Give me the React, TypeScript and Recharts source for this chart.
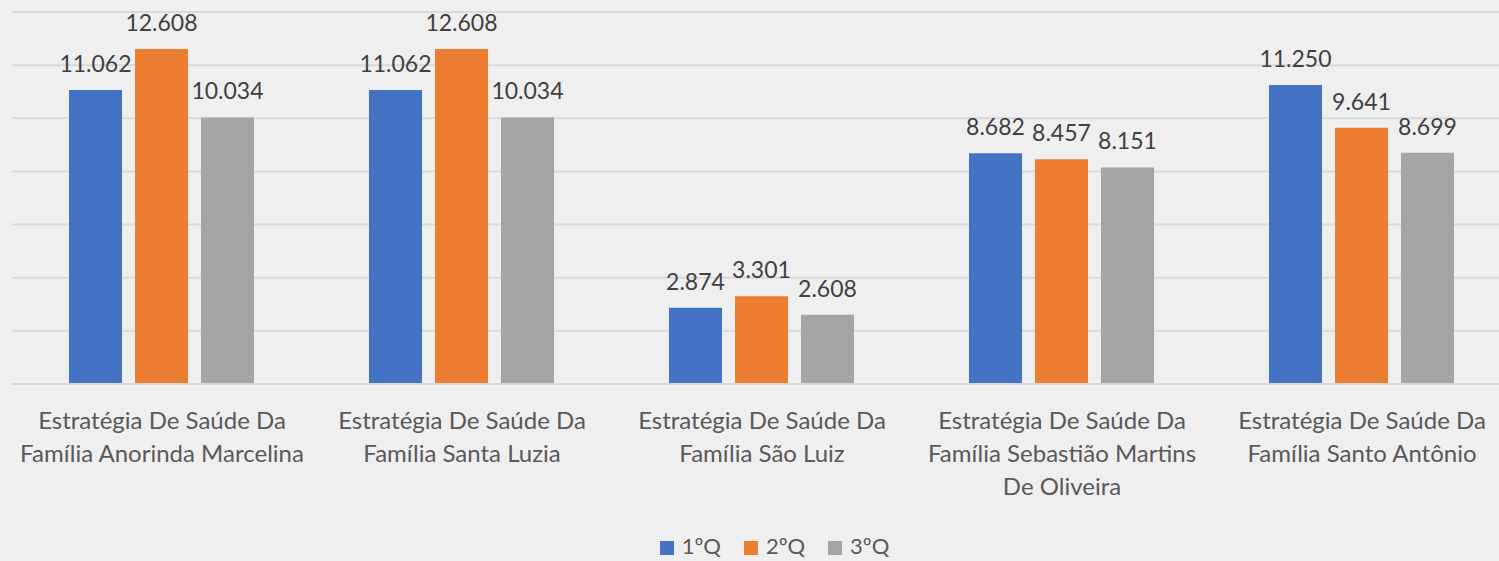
import { BarChart, Bar, XAxis, YAxis, CartesianGrid, Legend, LabelList } from "recharts"

// Unidades de saúde
const categorias = [
  "Estratégia De Saúde Da Família Anorinda Marcelina",
  "Estratégia De Saúde Da Família Santa Luzia",
  "Estratégia De Saúde Da Família São Luiz",
  "Estratégia De Saúde Da Família Sebastião Martins De Oliveira",
  "Estratégia De Saúde Da Família Santo Antônio",
]

// Valores por quadrimestre
const q1 = [11062, 11062, 2874, 8682, 11250]
const q2 = [12608, 12608, 3301, 8457, 9641]
const q3 = [10034, 10034, 2608, 8151, 8699]

const yTicks = [0, 2000, 4000, 6000, 8000, 10000, 12000, 14000]

const FONT = "Lato, 'Open Sans', sans-serif"

const data = categorias.map((name, i) => ({ name, q1: q1[i], q2: q2[i], q3: q3[i] }))

// formata 11062 -> "11.062"
const fmt = (v: number) => String(v).replace(/\B(?=(\d{3})+(?!\d))/g, ".")

// quebra o rótulo em linhas de até 26 caracteres
function wrap(text: string, max = 26) {
  const lines: string[] = []
  let cur = ""
  text.split(" ").forEach((w) => {
    const next = cur ? cur + " " + w : w
    if (next.length > max && cur) {
      lines.push(cur)
      cur = w
    } else {
      cur = next
    }
  })
  if (cur) lines.push(cur)
  return lines
}

const CategoryTick = ({ x, y, payload }: any) => {
  const lines = wrap(payload.value)
  return (
    <text x={x} y={y} textAnchor="middle" fill="#595959" fontSize={24} fontFamily={FONT}>
      {lines.map((l, i) => (
        <tspan key={i} x={x} dy={i === 0 ? 37 : 33}>
          {l}
        </tspan>
      ))}
    </text>
  )
}

export default function App() {
  return (
    <div style={{ position: "absolute", left: 0, top: 0, width: 1499, height: 561, overflow: "hidden", background: "#efefef" }}>
      <BarChart
        width={1520}
        height={561}
        data={data}
        margin={{ top: 12, right: 8, left: 12, bottom: 0 }}
        barCategoryGap="19%"
        barGap={13}
      >
        <CartesianGrid vertical={false} stroke="#d9d9d9" strokeWidth={2} />
        <XAxis
          dataKey="name"
          axisLine={{ stroke: "#d9d9d9", strokeWidth: 2 }}
          tickLine={false}
          interval={0}
          height={115}
          tick={<CategoryTick />}
        />
        <YAxis hide domain={[0, 14000]} ticks={yTicks} />
        <Legend
          verticalAlign="bottom"
          height={48}
          iconType="square"
          iconSize={14}
          wrapperStyle={{ top: 517, fontFamily: FONT, fontSize: 22, color: "#595959", lineHeight: "30px", paddingTop: 14, paddingLeft: 24 }}
          formatter={(value) => <span style={{ color: "#595959", marginLeft: 4, marginRight: 13 }}>{value}</span>}
        />
        <Bar dataKey="q1" name="1ºQ" fill="#4472C4" isAnimationActive={false}>
          <LabelList dataKey="q1" position="top" offset={18} formatter={(v: any) => fmt(v)} fill="#404040" fontSize={23} fontFamily={FONT} />
        </Bar>
        <Bar dataKey="q2" name="2ºQ" fill="#ED7D31" isAnimationActive={false}>
          <LabelList dataKey="q2" position="top" offset={18} formatter={(v: any) => fmt(v)} fill="#404040" fontSize={23} fontFamily={FONT} />
        </Bar>
        <Bar dataKey="q3" name="3ºQ" fill="#A5A5A5" isAnimationActive={false}>
          <LabelList dataKey="q3" position="top" offset={18} formatter={(v: any) => fmt(v)} fill="#404040" fontSize={23} fontFamily={FONT} />
        </Bar>
      </BarChart>
    </div>
  )
}
